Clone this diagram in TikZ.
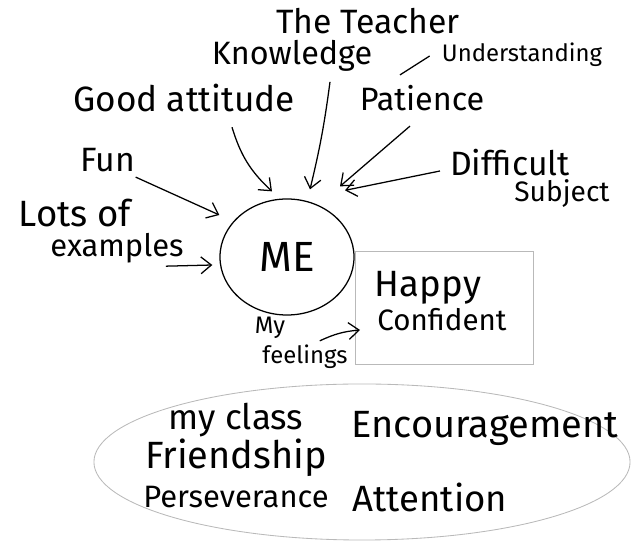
\documentclass[tikz,border=0pt]{standalone}
\usepackage{fontspec}
\setmainfont{Fira Sans}
\usetikzlibrary{arrows.meta,shapes.geometric,calc}

\tikzset{
  word/.style={inner sep=0pt, font=\fontsize{#1}{#1}\selectfont},
  arr/.style={line width=0.9pt, -{Straight Barb[length=2.6mm,width=4.2mm]}},
  faint/.style={draw=gray!55, line width=0.6pt}
}

\begin{document}
\begin{tikzpicture}[x=0.025cm,y=-0.025cm]
    \useasboundingbox (0,0) rectangle (634,543);
    % what comes in
    \node[word=24] (teacher) at (368,21) {The Teacher};
    \node[word=23] (knowledge) at (292,56) {Knowledge};
    \node[word=17] (understanding) at (522,55) {Understanding};
    \node[word=25] (good) at (184,98) {Good attitude};
    \node[word=23] (patience) at (422,98) {Patience};
    \node[word=24] (fun) at (108,160) {Fun};
    \node[word=24] (difficult) at (510,163) {Difficult};
    \node[word=20] (subject) at (562,194) {Subject};
    \node[word=26] (lots) at (75,213) {Lots of};
    \node[word=22] (examples) at (117,248) {examples};
    % me
    \node[draw, ellipse, line width=0.9pt, minimum width=3.35cm, minimum height=2.9cm, word=30] (me) at (287,257) {ME};
    % feelings
    \node[faint, minimum width=4.45cm, minimum height=2.83cm] (feelbox) at (444,308) {};
    \node[word=26] (happy) at (428,288) {Happy};
    \node[word=21] (confident) at (442,320) {Confident};
    \node[word=17] (my) at (270,328) {My};
    \node[word=17] (feelings) at (305,357) {feelings};
    \coordinate (feeltip) at (360,330);
    % my class
    \node[faint, ellipse, minimum width=13.4cm, minimum height=3.9cm] (class) at (362,462) {};
    \node[word=25] (myclass) at (236,420) {my class};
    \node[word=27] (encour) at (485,428) {Encouragement};
    \node[word=27] (friend) at (236,458) {Friendship};
    \node[word=22] (persev) at (236,497) {Perseverance};
    \node[word=26] (attention) at (430,497) {Attention};

    \draw[arr] ($(good.south)+(48,15)$) to[bend right=15] ($(me.north)+(-15,-7)$);
    \draw[arr] ($(knowledge.south)+(38,10)$) to[bend left=3] ($(me.north)+(23,-9)$);
    \draw[arr] ($(patience.south)+(-12,15)$) -- ($(me.north)+(53,-12)$);
    \draw[arr] ($(difficult.west)+(-10,8)$) -- ($(me.north)+(58,-8)$);
    \draw[arr] ($(fun.south east)+(0,5)$) -- ($(me.west)+(0,-42)$);
    \draw[arr] ($(examples.south east)+(-18,3)$) -- ($(me.west)+(-7,8)$);
    \draw[line width=0.9pt] ($(patience.north)+(-22,-10)$) -- ($(understanding.west)+(-12,1)$);
    \draw[arr] ($(feelings.north east)+(-28,-4)$) to[bend left=10] (feeltip);
\end{tikzpicture}
\end{document}
